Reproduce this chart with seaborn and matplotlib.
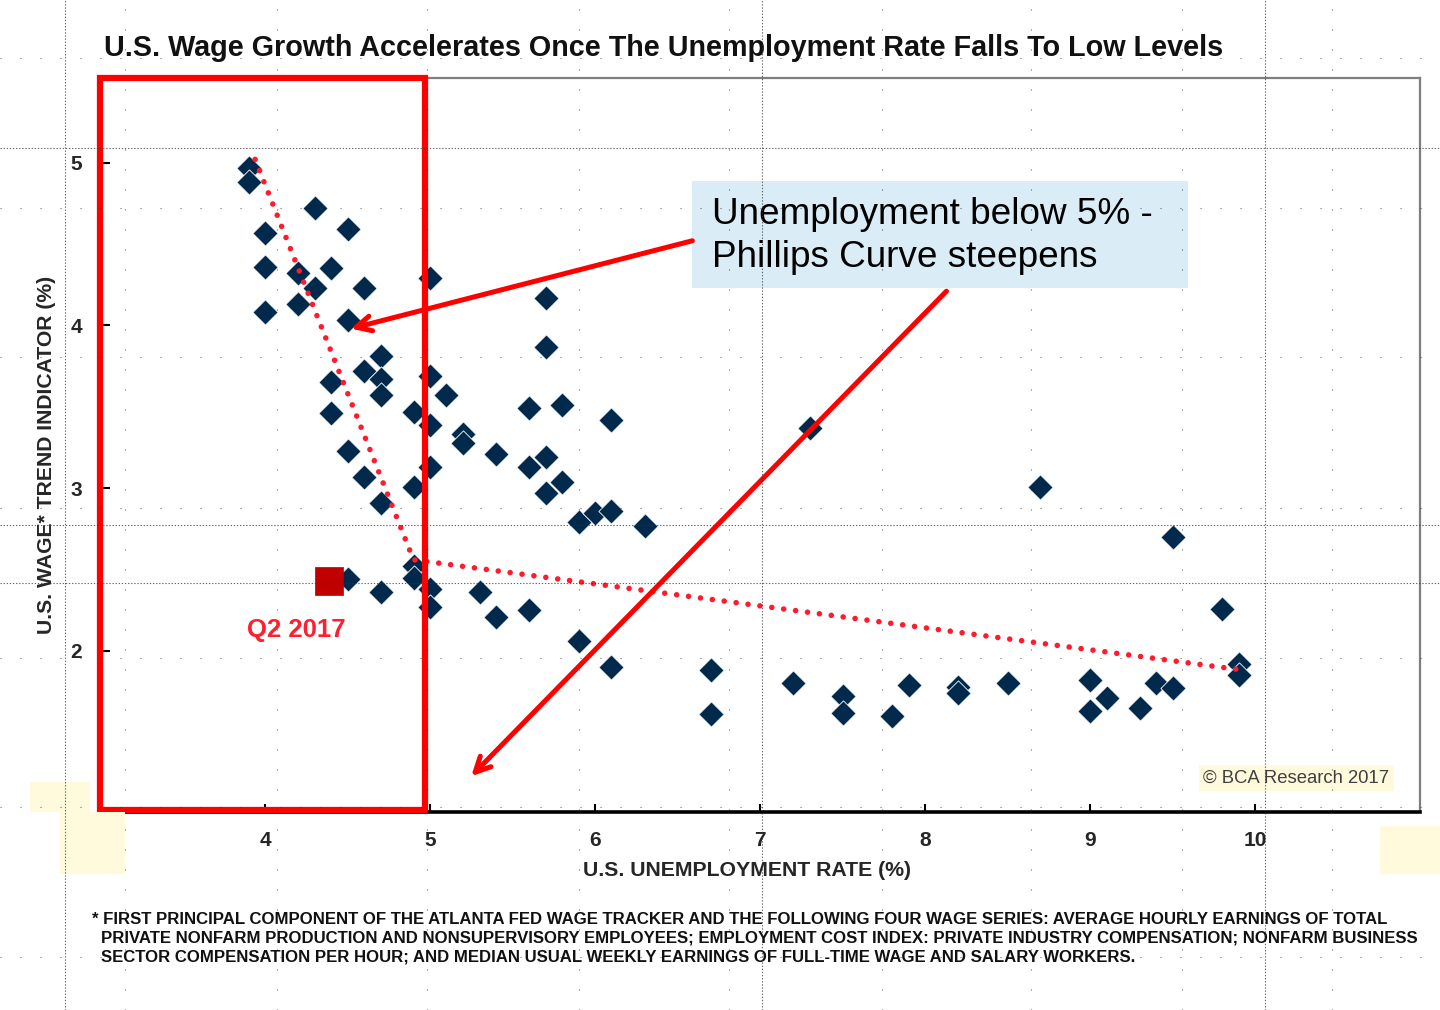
import matplotlib
matplotlib.use("Agg")
import matplotlib.pyplot as plt
from matplotlib.patches import Rectangle
from matplotlib.lines import Line2D
import seaborn as sns
import pandas as pd

# ---------------- data ----------------
unemp = [3.9, 3.9, 4.3, 4.0, 4.5, 4.0, 4.2, 4.4, 4.3, 4.6,
         4.0, 4.2, 4.5, 5.0, 4.7, 4.6, 4.4, 4.7, 4.7, 5.0,
         5.1, 5.7, 5.7, 4.4, 4.9, 5.0, 5.6, 5.8, 6.1, 5.2,
         5.2, 5.4, 4.5, 5.0, 5.6, 5.7, 4.6, 4.9, 5.7, 5.8,
         4.7, 5.9, 6.0, 6.1, 6.3, 4.9, 4.9, 4.5, 4.7, 5.0,
         5.0, 5.3, 5.4, 5.6, 5.9, 6.1, 6.7, 6.7, 7.2, 7.3,
         7.5, 7.5, 7.8, 7.9, 8.2, 8.2, 8.5, 8.7, 9.0, 9.0,
         9.1, 9.3, 9.4, 9.5, 9.5, 9.8, 9.9, 9.9]
wage = [4.97, 4.88, 4.72, 4.57, 4.59, 4.36, 4.32, 4.35, 4.23, 4.23,
        4.08, 4.13, 4.03, 4.29, 3.81, 3.72, 3.65, 3.67, 3.57, 3.69,
        3.57, 4.17, 3.87, 3.46, 3.47, 3.39, 3.49, 3.51, 3.42, 3.33,
        3.28, 3.21, 3.23, 3.13, 3.13, 3.19, 3.07, 3.01, 2.97, 3.04,
        2.91, 2.79, 2.85, 2.86, 2.77, 2.52, 2.45, 2.44, 2.36, 2.38,
        2.27, 2.36, 2.21, 2.25, 2.06, 1.90, 1.88, 1.61, 1.80, 3.37,
        1.72, 1.62, 1.60, 1.79, 1.78, 1.74, 1.80, 3.01, 1.82, 1.63,
        1.71, 1.65, 1.80, 1.77, 2.70, 2.26, 1.92, 1.85]

trend_x = [3.94, 4.90, 9.94]
trend_y = [5.02, 2.56, 1.88]

q2_x = [4.39]
q2_y = [2.43]

x_ticks = [4, 5, 6, 7, 8, 9, 10]
y_ticks = [2, 3, 4, 5]

title = "U.S. Wage Growth Accelerates Once The Unemployment Rate Falls To Low Levels"
xlabel = "U.S. UNEMPLOYMENT RATE (%)"
ylabel = "U.S. WAGE* TREND INDICATOR (%)"
callout = "Unemployment below 5% -\nPhillips Curve steepens"
q2_label = "Q2 2017"
credit = "\u00a9 BCA Research 2017"
footnote = ["* FIRST PRINCIPAL COMPONENT OF THE ATLANTA FED WAGE TRACKER AND THE FOLLOWING FOUR WAGE SERIES: AVERAGE HOURLY EARNINGS OF TOTAL",
            "PRIVATE NONFARM PRODUCTION AND NONSUPERVISORY EMPLOYEES; EMPLOYMENT COST INDEX: PRIVATE INDUSTRY COMPENSATION; NONFARM BUSINESS",
            "SECTOR COMPENSATION PER HOUR; AND MEDIAN USUAL WEEKLY EARNINGS OF FULL-TIME WAGE AND SALARY WORKERS."]

df = pd.DataFrame({"unemp": unemp, "wage": wage})

# ---------------- style ----------------
sns.set_theme(style="white")
plt.rcParams["font.family"] = ["Liberation Sans", "DejaVu Sans"]

W, H = 1440, 1010
fig = plt.figure(figsize=(14.4, 10.1), dpi=100)
fig.patch.set_facecolor("white")

def fx(px):
    return px / W

def fy(py):
    return 1 - py / H

# light-yellow background patches (slide artefacts)
for (x0, y0, x1, y1) in [(30, 782, 90, 812), (60, 812, 125, 874), (1380, 826, 1440, 874)]:
    fig.patches.append(Rectangle((fx(x0), fy(y1)), fx(x1 - x0), (y1 - y0) / H,
                                 transform=fig.transFigure, facecolor="#FFFADC",
                                 edgecolor="none", zorder=0))

ax = fig.add_axes([fx(100), fy(812), fx(1320), 734 / H])
ax.set_facecolor("white")

sns.scatterplot(data=df, x="unemp", y="wage", marker="D", s=165,
                color="#01294B", edgecolor="white", linewidth=0.6,
                ax=ax, zorder=3, legend=False)
sns.scatterplot(x=q2_x, y=q2_y, marker="s", s=400, color="#C00000",
                edgecolor="#C00000", linewidth=0.5, ax=ax, zorder=4, legend=False)

ax.plot(trend_x, trend_y, color="#FF1A2E", lw=4.0, dashes=(0.01, 2.15),
        dash_capstyle="round", zorder=5)

ax.set_xlim(3.0, 11.0)
ax.set_ylim(1.01, 5.52)
ax.set_xticks(x_ticks)
ax.set_yticks(y_ticks)
ax.set_xticklabels([str(v) for v in x_ticks], fontsize=15, fontweight="bold")
ax.set_yticklabels([str(v) for v in y_ticks], fontsize=15, fontweight="bold")
ax.tick_params(axis="x", direction="in", length=6, width=1.5, color="black", pad=14, bottom=True)
ax.tick_params(axis="y", direction="in", length=7, width=1.5, color="black", pad=13, left=True)
ax.set_xlabel("")
ax.set_ylabel("")
ax.grid(False)

for side in ["top", "right"]:
    ax.spines[side].set_color("#7F7F7F")
    ax.spines[side].set_linewidth(1.6)
ax.spines["bottom"].set_color("black")
ax.spines["bottom"].set_linewidth(2.6)
ax.spines["left"].set_color("black")
ax.spines["left"].set_linewidth(1.0)

# red box around unemployment < 5%
ax.add_patch(Rectangle((3.0, 1.02), 1.97, 4.50, fill=False, edgecolor="#FF0000",
                       lw=4.5, zorder=6, clip_on=False, joinstyle="miter"))

# callout box
ax.add_patch(Rectangle((6.587, 4.227), 9.592 - 6.587, 4.89 - 4.227,
                       facecolor="#DAEDF7", edgecolor="none", zorder=2))
ax.text(6.71, 4.55, callout, fontsize=26.6, color="black", va="center", ha="left",
        linespacing=1.28, zorder=7)

# arrows
arrow_kw = dict(arrowstyle="->,head_length=0.9,head_width=0.45", lw=3.6,
                color="#FF0000", shrinkA=0, shrinkB=0)
ax.annotate("", xy=(4.52, 3.98), xytext=(6.59, 4.52), arrowprops=arrow_kw, zorder=7)
ax.annotate("", xy=(5.25, 1.23), xytext=(8.13, 4.21), arrowprops=arrow_kw, zorder=7)

# Q2 2017 label
ax.text(4.19, 2.13, q2_label, fontsize=18.5, fontweight="bold", color="#FF1F2F",
        ha="center", va="center", zorder=7)

# credit
ax.text(10.25, 1.22, credit, fontsize=13.3, color="#404040", ha="center", va="center",
        zorder=7, bbox=dict(boxstyle="square,pad=0.25", facecolor="#FFFADC", edgecolor="none"))

# title / axis labels / footnote
fig.text(fx(104), fy(48), title, fontsize=20.7, fontweight="bold",
         color="#111111", ha="left", va="center")
fig.text(fx(747), fy(870), xlabel, fontsize=15.3, fontweight="bold", ha="center", va="center")
fig.text(fx(47), fy(455), ylabel, fontsize=15.2, fontweight="bold", rotation=90,
         ha="center", va="center")
for i, line in enumerate(footnote):
    x0 = 92 if i == 0 else 101
    fig.text(fx(x0), fy(919 + 19 * i), line, fontsize=12.1, fontweight="bold",
             ha="left", va="center", color="#111111")

# slide guide lines (dotted) on top
guide_kw = dict(transform=fig.transFigure, color="#333333", lw=0.8, zorder=20)
for py in [148, 525, 583]:
    fig.lines.append(Line2D([0, 1], [fy(py), fy(py)], dashes=(1.2, 1.6), alpha=0.75, **guide_kw))
for px in [65, 762, 1265]:
    fig.lines.append(Line2D([fx(px), fx(px)], [0, 1], dashes=(1.2, 1.6), alpha=0.75, **guide_kw))
for px in [125, 277, 427, 579, 729, 882, 1031, 1182, 1332]:
    fig.lines.append(Line2D([fx(px), fx(px)], [0, 1], dashes=(1.0, 17), alpha=0.7, **guide_kw))
for py in [58, 208, 357, 508, 658, 807, 957]:
    fig.lines.append(Line2D([0, 1], [fy(py), fy(py)], dashes=(1.0, 17), alpha=0.7, **guide_kw))

fig.savefig("out.png", dpi=100, facecolor="white")
